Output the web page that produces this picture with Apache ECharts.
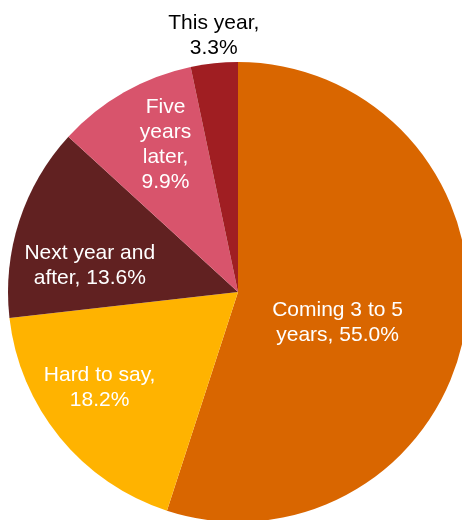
<!DOCTYPE html>
<html>
<head>
    <meta charset="utf-8">
    <title>ECharts</title>
    <script src="https://cdn.jsdelivr.net/npm/echarts@6/dist/echarts.min.js"></script>
    <style>
        html, body { margin: 0; padding: 0; background: #fff; }
    </style>
</head>
<body>
    <div id="main" style="width: 462px;height:520px;"></div>
    <script type="text/javascript">
    // data
    var names = ['Coming 3 to 5\nyears', 'Hard to say', 'Next year and\nafter', 'Five\nyears\nlater', 'This year'];
    var values = [55.0, 18.2, 13.6, 9.9, 3.3];
    var colors = ['#D96600', '#FFB300', '#612121', '#D8546C', '#A01E22'];
    // value goes on its own line after the comma?
    var wrapValue = [false, true, false, true, true];

    // nudges from the default inside label spot
    var labelShift = [[-17, 12], [-47, 21], [-36, 10], [-14, -45], [-12, -139]];

    var data = [];
    for (var i = 0; i < names.length; i++) {
        var item = {
            name: names[i],
            value: values[i],
            itemStyle: { color: colors[i] }
        };
        if (i == 4) {
            item.label = { color: '#000' };
        }
        data.push(item);
    }

    var myChart = echarts.init(document.getElementById('main'));
    var option = {
        animation: false,
        series: [{
            type: 'pie',
            center: [238, 292],
            radius: 230,
            startAngle: 90,
            clockwise: true,
            data: data,
            label: {
                show: true,
                position: 'inside',
                color: '#fff',
                fontFamily: 'Liberation Sans, Arial, sans-serif',
                fontSize: 21,
                lineHeight: 25,
                align: 'center',
                formatter: function (p) {
                    var sep = wrapValue[p.dataIndex] ? ',\n' : ', ';
                    return p.name + sep + p.value.toFixed(1) + '%';
                }
            },
            labelLine: { show: false },
            labelLayout: function (p) {
                var s = labelShift[p.dataIndex];
                return { dx: s[0], dy: s[1] };
            }
        }]
    };
    myChart.setOption(option);
    </script>
</body>
</html>
